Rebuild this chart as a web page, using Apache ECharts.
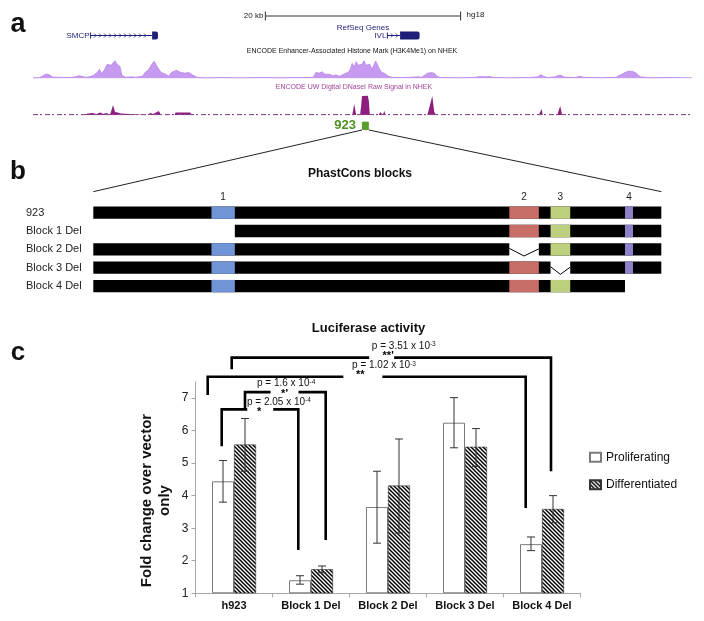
<!DOCTYPE html>
<html><head><meta charset="utf-8">
<script src="https://cdn.jsdelivr.net/npm/echarts@6/dist/echarts.min.js"></script>
<style>html,body{margin:0;padding:0;background:#fff}#c{width:704px;height:621px}</style>
</head><body><div id="c"></div>
<script>
// ================= DATA =================
// panel a : genome browser view (positions in kb from the left edge of the view)
const trackSpanKb = [0, 67.5];
const scaleBarKb = [23.8, 43.8];
const scaleBarLabel = '20 kb';
const assemblyLabel = 'hg18';
const geneNames = ['SMCP', 'IVL'];
const geneTxKb = [[5.9, 12.8], [36.3, 39.6]];
const geneExonKb = [[12.2, 12.8], [37.6, 39.6]];
const histoneSignal = [[0,0.5],[0.7,0.8],[1.1,3],[1.4,4.3],[1.7,3.5],[2.0,1.2],[2.8,1],[3.8,0.8],[4.4,1.5],[4.7,2.5],[5.0,2],[5.4,1],[5.8,1.5],[6.2,3],[6.6,6],[6.8,9],[7.0,5],[7.3,8],[7.6,14],[7.8,15.6],[8.0,13],[8.2,14],[8.4,17.6],[8.6,14],[8.9,12],[9.1,3],[9.5,1],[10.1,1.5],[10.5,1],[11.2,2],[11.5,6],[11.8,8],[12.1,13],[12.4,17],[12.7,12],[12.9,10],[13.1,6],[13.3,7],[13.6,4],[13.9,2],[14.2,6],[14.4,8],[14.7,8],[15.1,6],[15.3,7],[15.6,5],[15.9,6],[16.1,4],[16.4,3],[16.8,1],[17.6,0.5],[19.2,0.8],[21.2,0.5],[23.2,0.8],[25.3,0.6],[27.3,0.8],[28.7,1],[29.0,6],[29.3,5],[29.6,6.6],[29.9,4],[30.1,3],[30.4,4],[30.7,2.5],[31.0,3.5],[31.4,2],[31.8,4],[32.3,6],[32.5,9],[32.7,15],[32.9,11],[33.1,16.6],[33.3,13],[33.5,11.7],[33.7,14],[33.9,17.6],[34.1,13],[34.3,11.7],[34.5,14],[34.7,9],[34.9,13],[35.1,17.3],[35.3,16],[35.5,9],[35.7,6],[36.0,5],[36.4,2],[36.8,1],[37.6,0.8],[38.6,1],[39.4,1.5],[39.8,1],[40.1,3],[40.4,5],[40.8,5.7],[41.1,5],[41.4,2],[41.7,0.8],[43.7,0.6],[45.3,1],[45.8,1.8],[46.3,1.5],[46.8,1.8],[47.2,0.8],[48.8,0.6],[50.9,0.8],[51.7,1.5],[52.0,3.5],[52.3,2],[52.7,0.8],[53.5,1.5],[53.8,3],[54.1,3],[54.4,1.2],[55.5,0.8],[56.0,2],[56.4,1],[58.1,0.6],[59.7,1],[60.1,3],[60.5,5],[60.9,7],[61.1,8.3],[61.4,7],[61.8,5],[62.2,1.5],[63.2,0.6],[65.2,0.8],[67.5,0.5]];
const dnaseSignal = [[5.3,0],[5.6,1.5],[5.8,0.5],[6.1,2],[6.5,1],[6.9,2.5],[7.2,1],[7.5,2],[7.9,0.5],[8.1,0],[8.2,10],[8.4,3],[8.7,2.5],[9.0,1.5],[9.2,0],[11.7,0],[12.0,2],[12.3,1],[12.6,2.5],[12.9,4],[13.1,0],[14.5,0],[14.6,2.5],[16.1,2.5],[16.3,0],[32.7,0],[32.9,11],[33.1,0],[33.5,0],[33.6,8],[33.7,19],[34.3,19.3],[34.4,14],[34.5,0],[35.4,0],[35.6,3],[35.8,0],[36.0,4],[36.1,0],[40.4,0],[40.9,19],[41.1,3],[41.3,0],[51.8,0],[52.1,6],[52.2,0],[53.7,0],[54.0,9],[54.2,0],[60.9,0],[61.0,1.5],[61.1,0]];
const trackTitles = ['RefSeq Genes', 'ENCODE Enhancer-Associated Histone Mark (H3K4Me1) on NHEK', 'ENCODE UW Digital DNaseI Raw Signal in NHEK'];
const elementName = '923';
const elementKb = [33.7, 34.4];

// panel b : PhastCons blocks (positions in bp along the 923 element)
const fragmentLengthBp = 923;
const constructNames = ['923', 'Block 1 Del', 'Block 2 Del', 'Block 3 Del', 'Block 4 Del'];
const constructKept = [[[0,923]], [[230,923]], [[0,676],[724,923]], [[0,743],[775,923]], [[0,864]]];
const blockNames = ['1', '2', '3', '4'];
const blockBp = [[192,230], [676,724], [743,775], [864,877]];

// panel c : luciferase activity
const categories = ['h923', 'Block 1 Del', 'Block 2 Del', 'Block 3 Del', 'Block 4 Del'];
const seriesNames = ['Proliferating', 'Differentiated'];
const prolifMean = [4.44, 1.40, 3.65, 6.24, 2.51];
const prolifLow  = [3.80, 1.28, 2.54, 5.47, 2.31];
const prolifHigh = [5.08, 1.54, 4.75, 7.01, 2.73];
const diffMean = [5.57, 1.74, 4.31, 5.50, 3.59];
const diffLow  = [4.75, 1.63, 2.85, 4.90, 3.17];
const diffHigh = [6.37, 1.84, 5.74, 6.06, 4.00];
const yMin = 1, yMax = 7.5, yInterval = 1;
const bracketCats = [[0,1], [0,1], [0,4], [0,4]];
const bracketTop = [6.65, 7.18, 7.65, 8.24];
const bracketLeftEnd = [5.52, 6.65, 7.09, 7.88];
const bracketRightEnd = [2.33, 2.64, 3.62, 4.75];
const bracketP = ['2.05', '1.6', '1.02', '3.51'];
const bracketExp = ['-4', '-4', '-3', '-3'];
const bracketStars = ['*', "*'", '**', "**'"];

// ================= STYLE / LAYOUT =================
const FF = '"Liberation Sans", Arial, Helvetica, sans-serif';
const NAVY = '#1f1f78';
const BAR_W = 22;
const ROW_H = 12.3;
const blockColors = ['#6f95d6', '#c86d68', '#bdd07e', '#8d80c6'];
// bracket geometry (pixel offsets from bar/category centres)
const bLeftOff = [-12.3, 11, -26.3, -2.3];
const bRightOff = [-12.7, 14.7, -16.3, 9];
const bStarT = [0.49, 0.49, 0.48, 0.49];
const bGap = [[-12, 14], [-14, 14], [-17, 22], [-19, 6]];
const bTextDx = [-12.3, -27.6, -8.3, -16.3];
const bTextRise = [7.3, 8.4, 11.3, 11.6];
const bStarDy = [2.5, 1.5, -1.5, -1.8];

const hatch = (function () {
  const c = document.createElement('canvas'); c.width = 4; c.height = 4;
  const g = c.getContext('2d');
  g.fillStyle = '#fff'; g.fillRect(0, 0, 4, 4);
  g.strokeStyle = '#000'; g.lineWidth = 1.5;
  g.beginPath();
  g.moveTo(-1, -1); g.lineTo(5, 5);
  g.moveTo(-1, 3); g.lineTo(1, 5);
  g.moveTo(3, -1); g.lineTo(5, 1);
  g.stroke();
  return c;
})();

function kbGrid(top, height) { return { left: 33, right: 12, top: top, height: height, outerBoundsMode: 'none' }; }
const grids = [kbGrid(10, 12), kbGrid(30, 11), kbGrid(58, 20.3), kbGrid(95, 20), kbGrid(121.7, 8.3),
  { left: 93.3, right: 42.7, top: 203.5, height: 91.7, outerBoundsMode: 'none' },
  { left: 195.5, right: 123.5, top: 381.7, height: 211.6, outerBoundsMode: 'none' }];

const xAxes = [0, 1, 2, 3, 4].map(i => ({ type: 'value', gridIndex: i, min: trackSpanKb[0], max: trackSpanKb[1], show: false }));
xAxes.push({ type: 'value', gridIndex: 5, min: 0, max: fragmentLengthBp, show: false });
xAxes.push({
  type: 'category', gridIndex: 6, data: categories,
  axisLine: { show: true, lineStyle: { color: '#a6a6a6', width: 1 } },
  axisTick: { show: true, length: 4, interval: 0, lineStyle: { color: '#a6a6a6' } },
  axisLabel: { interval: 0, fontSize: 11, fontWeight: 'bold', color: '#111', margin: 7, fontFamily: FF, hideOverlap: false },
  splitLine: { show: false }
});
const yAxes = [
  { type: 'value', gridIndex: 0, min: 0, max: 1, show: false },
  { type: 'value', gridIndex: 1, min: 0, max: 1, show: false },
  { type: 'value', gridIndex: 2, min: 0, max: 20.3, show: false },
  { type: 'value', gridIndex: 3, min: 0, max: 20, show: false },
  { type: 'value', gridIndex: 4, min: 0, max: 1, show: false },
  { type: 'category', gridIndex: 5, data: constructNames, inverse: true,
    axisLine: { show: false }, axisTick: { show: false }, splitLine: { show: false },
    axisLabel: { interval: 0, align: 'left', margin: 67.3, fontSize: 11, color: '#222', fontFamily: FF } },
  { type: 'value', gridIndex: 6, min: yMin, max: yMax, interval: yInterval, startValue: yMin,
    name: 'Fold change over vector\nonly', nameLocation: 'middle', nameGap: 22, nameRotate: 90, nameMoveOverlap: false,
    nameTextStyle: { fontSize: 15, fontWeight: 'bold', color: '#111', lineHeight: 18, fontFamily: FF, padding: [0, 26, 0, 0] },
    axisLine: { show: true, lineStyle: { color: '#a6a6a6', width: 1 } },
    axisTick: { show: true, length: 4, lineStyle: { color: '#a6a6a6' } },
    axisLabel: { fontSize: 12, color: '#222', margin: 7, showMaxLabel: false, fontFamily: FF },
    splitLine: { show: false } }
];

function txt(text, x, y, font, fill, align, valign) {
  return { type: 'text', style: { text: text, x: x, y: y, font: font, fill: fill || '#222', textAlign: align || 'center', textVerticalAlign: valign || 'middle' } };
}

const series = [
  { // scale bar
    type: 'custom', xAxisIndex: 0, yAxisIndex: 0, silent: true, data: [[scaleBarKb[0], 0.5]],
    renderItem: function (params, api) {
      const cs = params.coordSys; const cy = cs.y + cs.height / 2;
      const x1 = api.coord([scaleBarKb[0], 0])[0], x2 = api.coord([scaleBarKb[1], 0])[0];
      const st = { stroke: '#333', lineWidth: 1 };
      return { type: 'group', children: [
        { type: 'line', shape: { x1: x1, y1: cy, x2: x2, y2: cy }, style: st },
        { type: 'line', shape: { x1: x1, y1: cy - 4.5, x2: x1, y2: cy + 4.5 }, style: st },
        { type: 'line', shape: { x1: x2, y1: cy - 4.5, x2: x2, y2: cy + 4.5 }, style: st },
        txt(scaleBarLabel, x1 - 2, cy, '8px ' + FF, '#222', 'right'),
        txt(assemblyLabel, x2 + 6, cy - 1, '8px ' + FF, '#222', 'left')
      ] };
    }
  },
  { // genes
    type: 'custom', xAxisIndex: 1, yAxisIndex: 1, silent: true,
    data: geneTxKb.map(g => [g[0], 0.5]),
    renderItem: function (params, api) {
      const i = params.dataIndex;
      const cs = params.coordSys; const cy = cs.y + cs.height / 2;
      const x0 = api.coord([geneTxKb[i][0], 0])[0];
      const xe0 = api.coord([geneExonKb[i][0], 0])[0];
      const xe1 = api.coord([geneExonKb[i][1], 0])[0];
      const st = { stroke: NAVY, lineWidth: 1 };
      const ch = [
        txt(geneNames[i], x0 - 1, cy, '8px ' + FF, NAVY, 'right'),
        { type: 'line', shape: { x1: x0, y1: cy, x2: xe0, y2: cy }, style: st },
        { type: 'line', shape: { x1: x0, y1: cy - 3, x2: x0, y2: cy + 3 }, style: st }
      ];
      for (let x = x0 + 5; x < xe0 - 2; x += 5) {
        ch.push({ type: 'polyline', shape: { points: [[x - 1.5, cy - 2], [x + 0.5, cy], [x - 1.5, cy + 2]] }, style: { stroke: NAVY, lineWidth: 0.8, fill: null } });
      }
      ch.push({ type: 'rect', shape: { x: xe0, y: cy - 4, width: xe1 - xe0, height: 8, r: [0, 2, 2, 0] }, style: { fill: NAVY } });
      return { type: 'group', children: ch };
    }
  },
  { // histone H3K4Me1 signal
    type: 'line', xAxisIndex: 2, yAxisIndex: 2, data: histoneSignal, symbol: 'none', silent: true,
    lineStyle: { color: '#b987ea', width: 0.8 }, areaStyle: { color: '#c79af1', opacity: 1 }
  },
  { // DNase baseline
    type: 'line', xAxisIndex: 3, yAxisIndex: 3, data: trackSpanKb.map(x => [x, 0.3]), symbol: 'none', silent: true,
    lineStyle: { color: '#8d4d88', width: 1.2, type: [5, 2, 2, 3] }
  },
  { // DNase signal
    type: 'line', xAxisIndex: 3, yAxisIndex: 3, data: dnaseSignal, symbol: 'none', silent: true,
    lineStyle: { opacity: 0, width: 0 }, areaStyle: { color: '#8c1f80', opacity: 1 }
  },
  { // element 923
    type: 'custom', xAxisIndex: 4, yAxisIndex: 4, silent: true, data: [[elementKb[0], 0.5]],
    renderItem: function (params, api) {
      const cs = params.coordSys;
      const x0 = api.coord([elementKb[0], 0])[0], x1 = api.coord([elementKb[1], 0])[0];
      return { type: 'group', children: [
        { type: 'rect', shape: { x: x0, y: cs.y, width: x1 - x0, height: cs.height }, style: { fill: '#5a9e2c' } },
        txt(elementName, x0 - 6, cs.y + cs.height / 2 - 0.5, 'bold 13px ' + FF, '#4f8f22', 'right')
      ] };
    }
  },
  { // panel b constructs
    type: 'custom', xAxisIndex: 5, yAxisIndex: 5, silent: true,
    data: constructNames.map((n, i) => [0, i]),
    renderItem: function (params, api) {
      const i = params.dataIndex;
      const cy = api.coord([0, i])[1];
      const kept = constructKept[i];
      const X = v => api.coord([v, i])[0];
      const ch = [];
      kept.forEach(r => ch.push({ type: 'rect', shape: { x: X(r[0]), y: cy - ROW_H / 2, width: X(r[1]) - X(r[0]), height: ROW_H }, style: { fill: '#000' } }));
      blockBp.forEach((b, k) => {
        if (kept.some(r => b[0] >= r[0] && b[1] <= r[1])) {
          ch.push({ type: 'rect', shape: { x: X(b[0]), y: cy - ROW_H / 2, width: X(b[1]) - X(b[0]), height: ROW_H }, style: { fill: blockColors[k] } });
        }
      });
      for (let j = 0; j < kept.length - 1; j++) {
        const a = X(kept[j][1]), b = X(kept[j + 1][0]);
        ch.push({ type: 'polyline', shape: { points: [[a, cy - 1], [(a + b) / 2, cy + ROW_H / 2 + 0.5], [b, cy - 0.5]] }, style: { stroke: '#000', lineWidth: 1, fill: null } });
      }
      return { type: 'group', children: ch };
    }
  },
  { // block numbers
    type: 'custom', xAxisIndex: 5, yAxisIndex: 5, silent: true,
    data: blockBp.map(b => [(b[0] + b[1]) / 2, 0]),
    renderItem: function (params, api) {
      const k = params.dataIndex;
      const p = api.coord([(blockBp[k][0] + blockBp[k][1]) / 2, 0]);
      return txt(blockNames[k], p[0], p[1] - ROW_H / 2 - 9, '10px ' + FF, '#222', 'center');
    }
  },
  {
    type: 'bar', name: seriesNames[0], xAxisIndex: 6, yAxisIndex: 6, data: prolifMean,
    barWidth: BAR_W, barGap: '0%', silent: true,
    itemStyle: { color: '#ffffff', borderColor: '#7a7a7a', borderWidth: 1 }
  },
  {
    type: 'bar', name: seriesNames[1], xAxisIndex: 6, yAxisIndex: 6, data: diffMean,
    barWidth: BAR_W, barGap: '0%', silent: true,
    itemStyle: { color: { image: hatch, repeat: 'repeat' }, borderColor: '#333', borderWidth: 0.6 }
  },
  { // error bars
    type: 'custom', xAxisIndex: 6, yAxisIndex: 6, silent: true, z: 5,
    data: categories.map((c, i) => [i, prolifHigh[i]]),
    renderItem: function (params, api) {
      const i = params.dataIndex;
      const cx = api.coord([i, yMin])[0];
      const ch = [];
      [[prolifLow, prolifHigh, -1], [diffLow, diffHigh, 1]].forEach(function (d) {
        const x = cx + d[2] * BAR_W / 2;
        const y1 = api.coord([i, d[0][i]])[1], y2 = api.coord([i, d[1][i]])[1];
        const st = { stroke: '#333', lineWidth: 1 };
        ch.push({ type: 'line', shape: { x1: x, y1: y1, x2: x, y2: y2 }, style: st });
        ch.push({ type: 'line', shape: { x1: x - 4, y1: y1, x2: x + 4, y2: y1 }, style: st });
        ch.push({ type: 'line', shape: { x1: x - 4, y1: y2, x2: x + 4, y2: y2 }, style: st });
      });
      return { type: 'group', children: ch };
    }
  },
  { // significance brackets
    type: 'custom', xAxisIndex: 6, yAxisIndex: 6, silent: true, clip: false, z: 6,
    data: bracketCats.map((c, i) => [c[0], bracketTop[i]]),
    renderItem: function (params, api) {
      const i = params.dataIndex;
      const cL = bracketCats[i][0], cR = bracketCats[i][1];
      const xl = api.coord([cL, yMin])[0] + bLeftOff[i];
      const xr = api.coord([cR, yMin])[0] + bRightOff[i];
      const yt = api.coord([cL, bracketTop[i]])[1];
      const yl = api.coord([cL, bracketLeftEnd[i]])[1];
      const yr = api.coord([cR, bracketRightEnd[i]])[1];
      const xs = xl + (xr - xl) * bStarT[i];
      const st = { stroke: '#000', lineWidth: 2.6, fill: null, lineJoin: 'miter' };
      return { type: 'group', children: [
        { type: 'polyline', shape: { points: [[xl, yl], [xl, yt], [xs + bGap[i][0], yt]] }, style: st },
        { type: 'polyline', shape: { points: [[xs + bGap[i][1], yt], [xr, yt], [xr, yr]] }, style: st },
        txt(bracketStars[i], xs, yt + bStarDy[i], 'bold 11px ' + FF, '#000', 'center'),
        { type: 'text', style: {
            text: '{a|p = ' + bracketP[i] + ' x 10}{s|' + bracketExp[i] + '}',
            x: xs + bTextDx[i], y: yt - bTextRise[i], textAlign: 'left', textVerticalAlign: 'middle',
            rich: { a: { fontSize: 10, fontFamily: FF, fill: '#111', color: '#111' },
                    s: { fontSize: 6.5, fontFamily: FF, fill: '#111', color: '#111', verticalAlign: 'top' } } } }
      ] };
    }
  }
];

const chart = echarts.init(document.getElementById('c'), null, { renderer: 'canvas', width: 704, height: 621 });
chart.setOption({
  animation: false,
  backgroundColor: '#ffffff',
  textStyle: { fontFamily: FF },
  grid: grids, xAxis: xAxes, yAxis: yAxes,
  legend: {
    data: seriesNames, orient: 'vertical', left: 589, top: 451.2, itemWidth: 11, itemHeight: 9, itemGap: 15.6,
    icon: 'rect', padding: 0, textStyle: { fontSize: 12, color: '#111', fontFamily: FF }, selectedMode: false
  },
  series: series
});

// connectors from element 923 (panel a) to the full-length construct (panel b)
const a0 = chart.convertToPixel({ gridIndex: 4 }, [elementKb[0], 0]);
const a1 = chart.convertToPixel({ gridIndex: 4 }, [elementKb[1], 0]);
const b0 = chart.convertToPixel({ gridIndex: 5 }, [0, 0]);
const b1 = chart.convertToPixel({ gridIndex: 5 }, [fragmentLengthBp, 0]);
const lineSt = { stroke: '#222', lineWidth: 1 };
chart.setOption({
  graphic: { elements: [
    txt('a', 18, 24.7, 'bold 27px ' + FF, '#111'),
    txt('b', 18, 172, 'bold 26px ' + FF, '#111'),
    txt('c', 18, 353, 'bold 26px ' + FF, '#111'),
    txt(trackTitles[0], 363, 27.7, '8px ' + FF, NAVY),
    txt(trackTitles[1], 352, 50.7, '7px ' + FF, '#111'),
    txt(trackTitles[2], 354, 87.3, '7px ' + FF, '#a0449c'),
    txt('PhastCons blocks', 360, 173.3, 'bold 12px ' + FF, '#111'),
    txt('Luciferase activity', 368.5, 328, 'bold 13px ' + FF, '#111'),
    { type: 'line', shape: { x1: a0[0], y1: a0[1], x2: b0[0], y2: b0[1] - 21 }, style: lineSt },
    { type: 'line', shape: { x1: a1[0], y1: a1[1], x2: b1[0], y2: b1[1] - 21 }, style: lineSt }
  ] }
});
</script>
</body></html>
